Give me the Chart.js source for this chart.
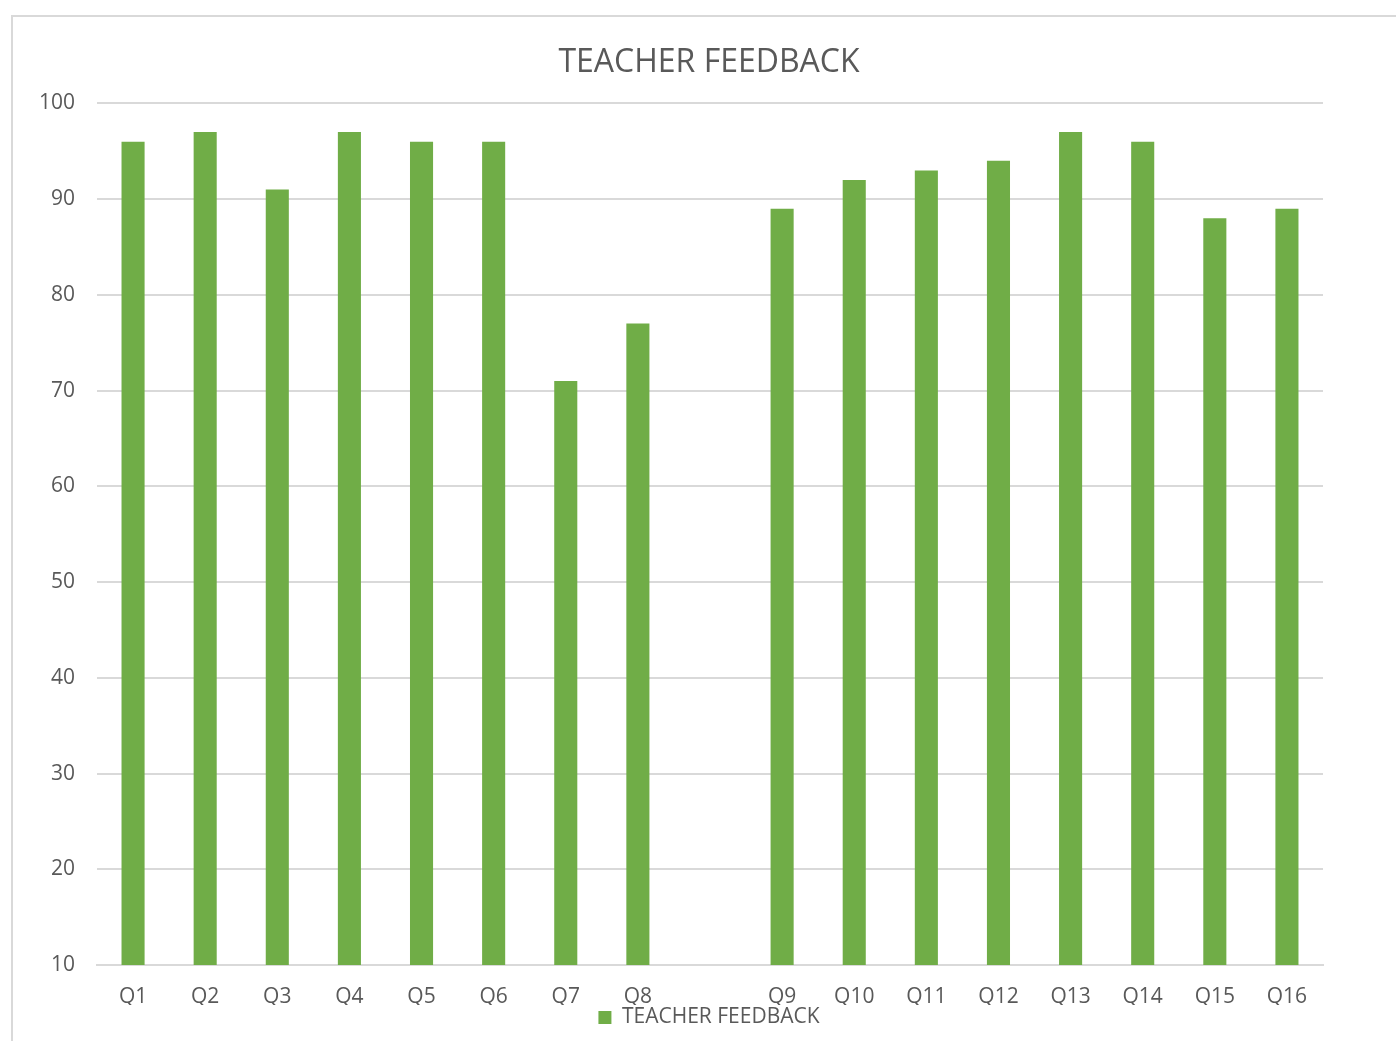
<!DOCTYPE html>
<html>
<head>
<meta charset="utf-8">
<script src="https://cdn.jsdelivr.net/npm/chart.js@4"></script>
<style>
  body { margin: 0; background: #fff; overflow: hidden; }
  .frame { position: absolute; left: 11px; top: 15px; width: 1400px; height: 1040px; border: 2px solid #d9d9d9; box-sizing: border-box; }
  .wrap { position: absolute; left: 0; top: 0; width: 1396px; height: 1041px; }
</style>
</head>
<body>
<div class="frame"></div>
<div class="wrap"><canvas id="chart" width="1396" height="1041"></canvas></div>
<script>
// categories, with one empty slot between Q8 and Q9
const questions = ['Q1','Q2','Q3','Q4','Q5','Q6','Q7','Q8','','Q9','Q10','Q11','Q12','Q13','Q14','Q15','Q16']
const scores = [96, 97, 91, 97, 96, 96, 71, 77, null, 89, 92, 93, 94, 97, 96, 88, 89]
const yTicks = [10, 20, 30, 40, 50, 60, 70, 80, 90, 100]

const grey = '#595959'
const font = "'Open Sans', sans-serif"

var ctx = document.getElementById('chart').getContext('2d');
var feedbackChart = new Chart(ctx, {
    type: 'bar',
    data: {
        labels: questions,
        datasets: [{
            label: 'TEACHER FEEDBACK',
            data: scores,
            backgroundColor: '#70ad47',
            borderWidth: 0,
            barPercentage: 1,
            categoryPercentage: 0.32
        }]
    },
    options: {
        responsive: false,
        animation: false,
        layout: { padding: { left: 22, right: 0, top: 44, bottom: 3 } },
        plugins: {
            title: {
                display: true,
                text: 'TEACHER FEEDBACK',
                color: grey,
                font: { family: font, size: 32, weight: 'normal' },
                padding: { top: 0, bottom: 21 }
            },
            legend: {
                position: 'bottom',
                labels: {
                    color: grey,
                    font: { family: font, size: 21 },
                    boxWidth: 13,
                    boxHeight: 13,
                    padding: 2
                }
            },
            tooltip: { enabled: false }
        },
        scales: {
            x: {
                grid: { display: false, drawTicks: false },
                border: { color: '#d9d9d9', width: 2 },
                ticks: { color: grey, font: { family: font, size: 21 }, padding: 19, maxRotation: 0, autoSkip: false },
                afterFit: s => { s.height = 40 }
            },
            y: {
                min: 10,
                max: 100,
                grid: { color: '#d9d9d9', lineWidth: 2, drawTicks: false },
                border: { display: false },
                afterBuildTicks: s => { s.ticks = yTicks.map(v => ({ value: v })) },
                ticks: { color: grey, font: { family: font, size: 21 }, padding: 22 },
                afterFit: s => { s.width = 75 }
            },
            // empty right-hand axis, only keeps the plot off the right edge
            // so the title and legend centre over the plot like the original
            side: {
                position: 'right',
                grid: { display: false },
                border: { display: false },
                ticks: { display: false },
                afterFit: s => { s.width = 73 }
            }
        }
    }
});
</script>
</body>
</html>
